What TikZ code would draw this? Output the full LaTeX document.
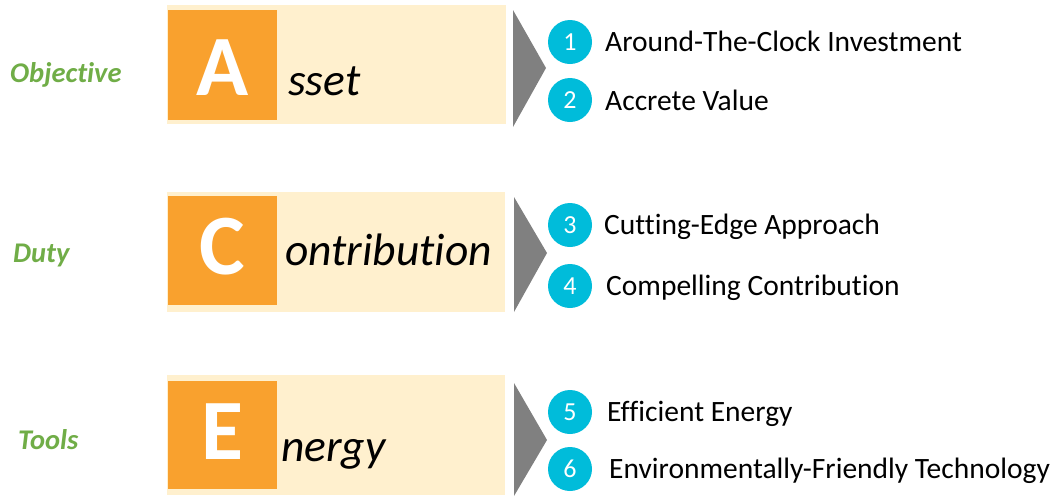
\documentclass[tikz,border=0pt]{standalone}
\usepackage{fontspec}
\setmainfont{Carlito}[Ligatures=NoCommon]
\usepackage{tikz}
\usetikzlibrary{positioning}
\definecolor{panelfill}{HTML}{FFF0CE}
\definecolor{letterfill}{HTML}{F9A12E}
\definecolor{badgefill}{HTML}{00BCDA}
\definecolor{chevfill}{HTML}{808080}
\definecolor{taggreen}{HTML}{70AD47}
\tikzset{
	panel/.style={fill=panelfill},
	letterbox/.style={fill=letterfill},
	chevron/.style={fill=chevfill},
	bigletter/.style={inner sep=0pt,text=white,font=\fontsize{86}{86}\selectfont\bfseries},
	word/.style={inner sep=0pt,anchor=base west,font=\fontsize{45.5}{45.5}\selectfont\itshape},
	tag/.style={inner sep=0pt,anchor=base west,text=taggreen,font=\fontsize{28.5}{28.5}\selectfont\bfseries\itshape},
	badge/.style={circle,fill=badgefill,minimum size=44pt,inner sep=0pt,text=white,font=\fontsize{26}{26}\selectfont},
	item/.style={inner sep=0pt,anchor=base west,font=\fontsize{29.5}{29.5}\selectfont}
}
\begin{document}
\begin{tikzpicture}[x=1pt,y=-1pt]
	\useasboundingbox (0,0) rectangle (1055,496);
	\fill[panel] (167,5) rectangle (506,124);
	\fill[panel] (167,192) rectangle (505,312);
	\fill[panel] (167,375) rectangle (505,495);
	\fill[letterbox] (168,10) rectangle (277,120);
	\fill[letterbox] (168,196) rectangle (277,305);
	\fill[letterbox] (168,381) rectangle (277,489);
	\fill[chevron] (513,10) -- (546,68) -- (513,127) -- cycle;
	\fill[chevron] (514,197) -- (547,253) -- (514,312) -- cycle;
	\fill[chevron] (514,383) -- (547,440) -- (514,496) -- cycle;
	\node[tag] (objective) at (10,82) {Objective};
	\node[tag] (duty) at (13,262) {Duty};
	\node[tag] (tools) at (18,449) {Tools};
	\node[bigletter,anchor=base] (la) at (222.5,95) {A};
	\node[bigletter,anchor=base] (lc) at (222.5,274) {C};
	\node[bigletter,anchor=base] (le) at (222.5,459) {E};
	\node[word] (asset) at (288,95) {sset};
	\node[word] (contribution) at (285,265) {ontribution};
	\node[word] (energy) at (281,461) {nergy};
	\node[badge] (b1) at (570,42) {1};
	\node[badge] (b2) at (570,100) {2};
	\node[badge] (b3) at (570,225) {3};
	\node[badge] (b4) at (570,286) {4};
	\node[badge] (b5) at (570,412) {5};
	\node[badge] (b6) at (570,469) {6};
	\node[item] (i1) at (605,51) {Around-The-Clock Investment};
	\node[item] (i2) at (605,110) {Accrete Value};
	\node[item] (i3) at (604,234) {Cutting-Edge Approach};
	\node[item] (i4) at (606,295) {Compelling Contribution};
	\node[item] (i5) at (607,421) {Efficient Energy};
	\node[item] (i6) at (609,478) {Environmentally-Friendly Technology};
\end{tikzpicture}
\end{document}
